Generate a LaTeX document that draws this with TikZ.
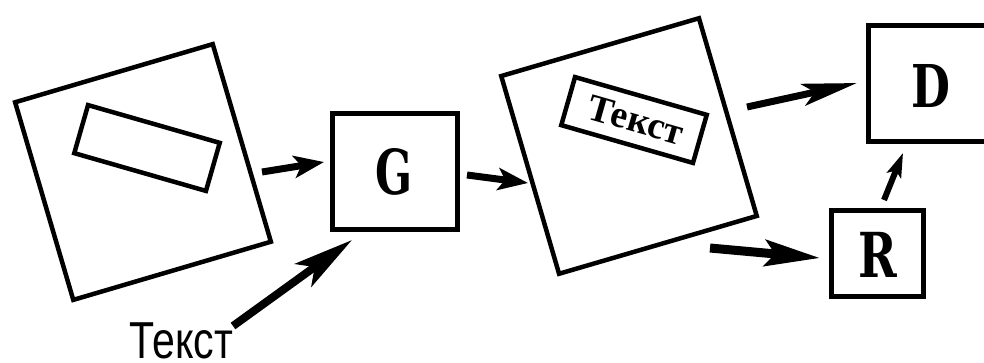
\documentclass[tikz,border=0pt]{standalone}
\usepackage{fontspec}
\setmainfont{DejaVu Serif}
\newfontfamily\labelsans{Liberation Sans}
\newfontfamily\labelserif{Liberation Serif}
\usetikzlibrary{arrows.meta}

\tikzset{
  frame/.style={draw, line width=5pt, minimum width=#1, inner sep=0pt, outer sep=0pt},
  tilted/.style={draw, line width=4.5pt, minimum size=206pt, inner sep=0pt, rotate=#1},
  badge/.style={draw, line width=4.5pt, minimum width=137pt, minimum height=50pt, inner sep=0pt, rotate=#1},
  bigletter/.style={font=\bfseries\fontsize{62}{62}\selectfont, inner sep=0pt},
  flow/.style={line width=#1, -{Stealth[length=30pt, width=22pt, inset=7pt]}},
}

\begin{document}
\begin{tikzpicture}[x=1pt, y=-1pt]
  \useasboundingbox (0,0) rectangle (984,362);
  \clip (0,0) rectangle (984,362);

  % input image with an empty label
  \node[tilted=16.4] (img1) at (143,172) {};
  \node[badge=-16] (blank) at (147,148) {};

  % generator
  \node[frame=125pt, minimum height=116pt] (G) at (394.5,171) {};
  \node[bigletter, xscale=0.7] (Gl) at (394.5,172) {G};

  % output image with generated text
  \node[tilted=16.3] (img2) at (629,146) {};
  \node[badge=-16] (filled) at (634,120) {};
  \node[font=\labelserif\bfseries\fontsize{38}{38}\selectfont, inner sep=0pt, rotate=-16] (filledtext) at (636,120) {Текст};

  % discriminator and recognizer
  \node[frame=126pt, minimum height=116pt] (D) at (931,83) {};
  \node[bigletter, font=\bfseries\fontsize{59}{59}\selectfont, xscale=0.76] (Dl) at (931,86) {D};
  \node[frame=92pt, minimum height=86pt] (R) at (877,253) {};
  \node[bigletter, xscale=0.75] (Rl) at (878,255) {R};

  % text prompt
  \node[font=\labelsans\fontsize{52}{52}\selectfont, xscale=0.79, anchor=base, inner sep=0pt] (prompt) at (181.5,358) {Текст};

  % connector ends
  \coordinate (a1s) at (262,172);  \coordinate (a1e) at (324,162);
  \coordinate (a2s) at (233,326);  \coordinate (a2e) at (352,240);
  \coordinate (a3s) at (467,175);  \coordinate (a3e) at (528,183);
  \coordinate (a4s) at (747,107);  \coordinate (a4e) at (857,83);
  \coordinate (a5s) at (710,248);  \coordinate (a5e) at (820,258);
  \coordinate (a6s) at (884,200);  \coordinate (a6e) at (903,153);

  \draw[flow=7pt] (a1s) -- (a1e);
  \draw[line width=8pt, -{Stealth[length=60pt, width=28pt, inset=14pt]}] (a2s) -- (a2e);
  \draw[flow=7pt] (a3s) -- (a3e);
  \draw[line width=7pt, -{Stealth[length=55pt, width=22pt, inset=12pt]}] (a4s) -- (a4e);
  \draw[line width=9pt, -{Stealth[length=55pt, width=26pt, inset=10pt]}] (a5s) -- (a5e);
  \draw[line width=6pt, -{Stealth[length=24pt, width=15pt, inset=5pt]}] (a6s) -- (a6e);
\end{tikzpicture}
\end{document}
